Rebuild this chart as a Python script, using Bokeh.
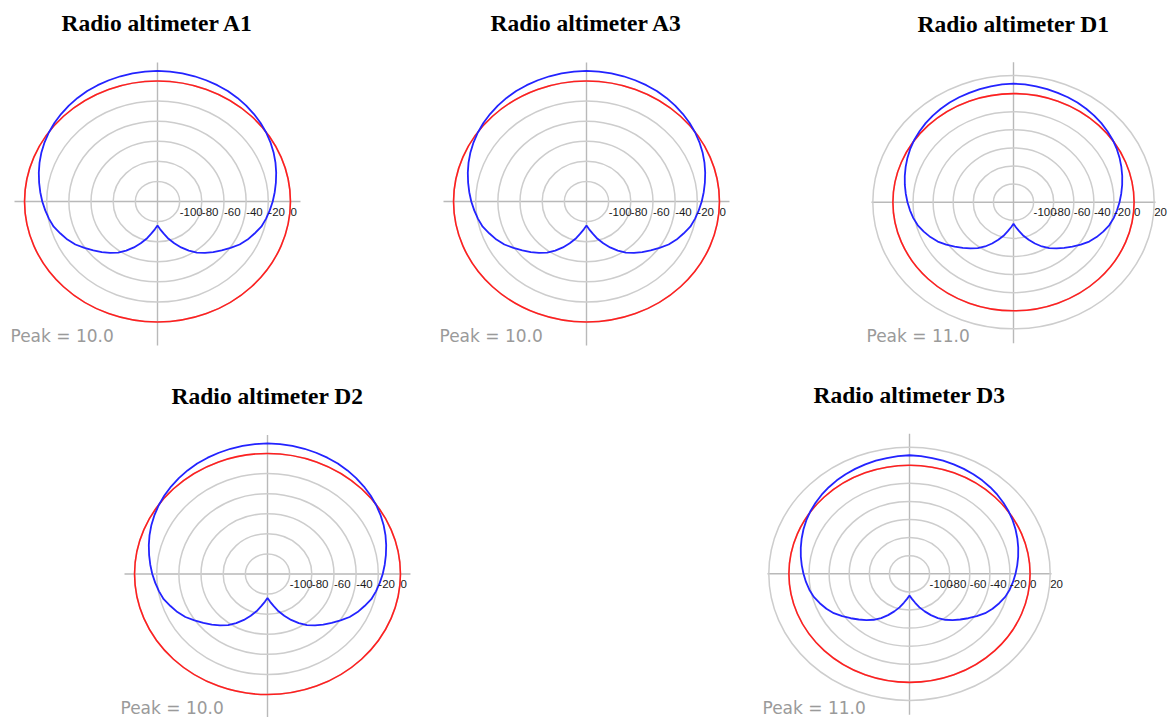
import math

from bokeh.core.properties import value
from bokeh.embed import file_html
from bokeh.layouts import column, row
from bokeh.models import ColumnDataSource, Range1d, Spacer
from bokeh.plotting import figure
from bokeh.resources import INLINE

# ---------------------------------------------------------------------------
# Data
# ---------------------------------------------------------------------------
# Radial scale: value at the pole and the grid rings of the two chart types
POLE_DB = -120
rings_short_db = [-100, -80, -60, -40, -20, 0]
rings_long_db = [-100, -80, -60, -40, -20, 0, 20]
ring_labels_short = ["-100", "-80", "-60", "-40", "-20", "0"]
ring_labels_long = ["-100", "-80", "-60", "-40", "-20", "0", "20"]

# isotropic reference level (red trace)
reference_db = 0.0

# polar angle of each pattern sample, degrees counter-clockwise from +x
angles_deg = list(range(0, 360, 5))

# antenna gain, dB, A-type installation (A1, A3, D2)
pattern_a_db = [
    -16.0, -13.8, -11.5, -9.1, -6.7, -4.4, -2.3, -0.3, 1.5, 3.1, 4.5, 5.8,
    6.9, 7.7, 8.4, 9.0, 9.4, 9.8, 10.0, 9.8, 9.4, 9.0, 8.4, 7.7,
    6.9, 5.8, 4.5, 3.1, 1.5, -0.3, -2.3, -4.4, -6.7, -9.1, -11.5, -13.8,
    -16.0, -18.3, -20.6, -23.0, -26.8, -30.3, -34.4, -39.5, -44.4, -48.9, -53.3, -58.0,
    -63.5, -69.6, -75.8, -81.6, -87.5, -92.2, -96.1, -92.2, -87.5, -81.6, -75.8, -69.6,
    -63.5, -58.0, -53.3, -48.9, -44.4, -39.5, -34.4, -30.3, -26.8, -23.0, -20.6, -18.3,
]

# antenna gain, dB, D-type installation (D1, D3)
pattern_d_db = [
    -14.5, -12.4, -10.2, -8.0, -5.8, -3.6, -1.5, 0.4, 2.0, 3.6, 4.9, 6.1,
    7.1, 7.9, 8.6, 9.4, 9.9, 10.6, 11.0, 10.6, 9.9, 9.4, 8.6, 7.9,
    7.1, 6.1, 4.9, 3.6, 2.0, 0.4, -1.5, -3.6, -5.8, -8.0, -10.2, -12.4,
    -14.5, -16.6, -18.8, -21.4, -25.0, -28.8, -33.0, -38.3, -43.6, -48.6, -53.3, -58.0,
    -63.5, -69.6, -75.8, -81.6, -87.5, -92.2, -96.1, -92.2, -87.5, -81.6, -75.8, -69.6,
    -63.5, -58.0, -53.3, -48.6, -43.6, -38.3, -33.0, -28.8, -25.0, -21.4, -18.8, -16.6,
]

titles = [
    "Radio altimeter A1",
    "Radio altimeter A3",
    "Radio altimeter D1",
    "Radio altimeter D2",
    "Radio altimeter D3",
]

# ---------------------------------------------------------------------------
# Styling
# ---------------------------------------------------------------------------
GRID_COLOR = "#cdcdcd"
AXIS_COLOR = "#b9b9b9"
REF_COLOR = "#ff1f1f"
PATTERN_COLOR = "#2323ff"
TICK_COLOR = "#1a1a1a"
PEAK_COLOR = "#9a9a9a"

# chart types: pixel scale per dB in x and y, crosshair half-lengths in px
STYLE_SHORT = dict(sx=1.108, sy=1.005, cross_x=143, cross_up=139, cross_down=144)
STYLE_LONG = dict(sx=1.005, sy=0.905, cross_x=142, cross_up=140, cross_down=141)


def polar_panel(title, pattern_db, rings_db, ring_labels, style,
                width, height, cx, cy):
    """One polar gain chart; (cx, cy) is the pole in px from the top-left."""
    sx, sy = style["sx"], style["sy"]
    p = figure(
        width=width, height=height,
        x_range=Range1d(-cx / sx, (width - cx) / sx),
        y_range=Range1d(-(height - cy) / sy, cy / sy),
        output_backend="svg", toolbar_location=None,
        x_axis_location=None, y_axis_location=None,
        min_border=0, outline_line_color=None,
    )
    p.xgrid.visible = False
    p.ygrid.visible = False

    # crosshair through the pole
    hx = style["cross_x"] / sx
    p.segment(x0=[-hx], y0=[0], x1=[hx], y1=[0], line_color=AXIS_COLOR, line_width=1.4)
    p.segment(x0=[0], y0=[-style["cross_down"] / sy], x1=[0], y1=[style["cross_up"] / sy],
              line_color=AXIS_COLOR, line_width=1.4)

    # grid rings
    radii = [db - POLE_DB for db in rings_db]
    p.ellipse(x=[0] * len(radii), y=[0] * len(radii),
              width=[2 * r for r in radii], height=[2 * r for r in radii],
              fill_color=None, line_color=GRID_COLOR, line_width=1.5)

    # isotropic reference
    r_ref = reference_db - POLE_DB
    p.ellipse(x=[0], y=[0], width=[2 * r_ref], height=[2 * r_ref],
              fill_color=None, line_color=REF_COLOR, line_width=1.6)

    # gain pattern
    xs, ys = [], []
    for ang, db in zip(angles_deg + angles_deg[:1], pattern_db + pattern_db[:1]):
        r = db - POLE_DB
        xs.append(r * math.cos(math.radians(ang)))
        ys.append(r * math.sin(math.radians(ang)))
    p.line(xs, ys, line_color=PATTERN_COLOR, line_width=1.8)

    # ring values along the +x axis
    src = ColumnDataSource(dict(x=radii, y=[0] * len(radii), t=ring_labels))
    p.text(x="x", y="y", text="t", source=src, x_offset=0, y_offset=6,
           text_align="left", text_baseline="top",
           text_font=value("Liberation Sans"), text_font_size="11.5px",
           text_color=TICK_COLOR)

    # title above the chart
    p.text(x=[0], y=[178.5 / sy], text=[title], text_align="center",
           text_baseline="alphabetic", text_font=value("Liberation Serif"),
           text_font_style="bold", text_font_size="23.5px", text_color="#000000")

    # peak gain note, lower left
    p.text(x=[-147 / sx], y=[-134 / sy], text=[f"Peak = {max(pattern_db):.1f}"],
           text_align="left", text_baseline="alphabetic",
           text_font=value("DejaVu Sans"), text_font_size="17px",
           text_color=PEAK_COLOR)
    return p


TOP_H = 372
BOTTOM_H = 345

p_a1 = polar_panel(titles[0], pattern_a_db, rings_short_db, ring_labels_short,
                   STYLE_SHORT, 314, TOP_H, 157, 201)
p_a3 = polar_panel(titles[1], pattern_a_db, rings_short_db, ring_labels_short,
                   STYLE_SHORT, 314, TOP_H, 157, 201)
p_d1 = polar_panel(titles[2], pattern_d_db, rings_long_db, ring_labels_long,
                   STYLE_LONG, 308, TOP_H, 153, 201.7)
p_d2 = polar_panel(titles[3], pattern_a_db, rings_short_db, ring_labels_short,
                   STYLE_SHORT, 314, BOTTOM_H, 157, 201.5)
p_d3 = polar_panel(titles[4], pattern_d_db, rings_long_db, ring_labels_long,
                   STYLE_LONG, 314, BOTTOM_H, 157, 201.3)

top = row(p_a1, Spacer(width=115, height=TOP_H), p_a3,
          Spacer(width=117, height=TOP_H), p_d1)
bottom = row(Spacer(width=110, height=BOTTOM_H), p_d2,
             Spacer(width=328, height=BOTTOM_H), p_d3,
             Spacer(width=102, height=BOTTOM_H))
layout = column(top, bottom)

open("out.html", "w").write(file_html(layout, INLINE))
